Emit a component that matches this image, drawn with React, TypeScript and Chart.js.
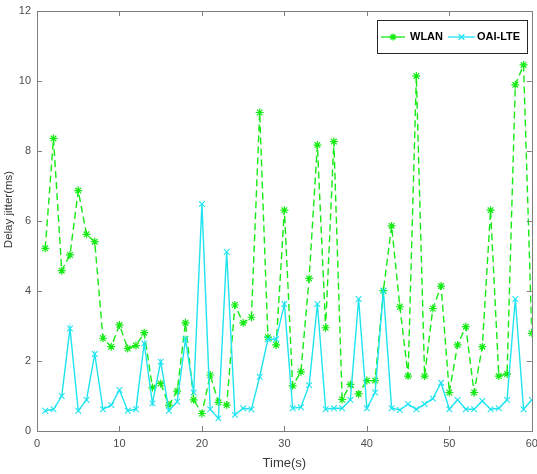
import React, { useEffect, useRef } from "react";
import { Chart, registerables } from "chart.js";

Chart.register(...registerables);

// Time axis (seconds)
const timeSec: number[] = Array.from({ length: 60 }, (_, i) => i + 1);

// Delay jitter (ms) per second
const wlanJitter: number[] = [
  5.22, 8.36, 4.58, 5.03, 6.87, 5.62, 5.41, 2.65, 2.41, 3.03,
  2.36, 2.44, 2.81, 1.24, 1.36, 0.74, 1.14, 3.09, 0.89, 0.5,
  1.6, 0.82, 0.74, 3.6, 3.09, 3.25, 9.1, 2.68, 2.46, 6.31,
  1.29, 1.69, 4.36, 8.17, 2.95, 8.27, 0.9, 1.33, 1.06, 1.44,
  1.44, 4.01, 5.86, 3.55, 1.57, 10.14, 1.57, 3.5, 4.14, 1.1,
  2.46, 2.98, 1.1, 2.41, 6.31, 1.57, 1.63, 9.89, 10.46, 2.79,
];

const lteJitter: number[] = [
  0.58, 0.62, 1.0, 2.93, 0.58, 0.89, 2.2, 0.62, 0.74, 1.17,
  0.58, 0.62, 2.5, 0.79, 1.98, 0.58, 0.84, 2.62, 1.1, 6.49,
  0.62, 0.36, 5.12, 0.46, 0.65, 0.62, 1.55, 2.62, 2.62, 3.63,
  0.65, 0.68, 1.31, 3.63, 0.62, 0.65, 0.65, 0.89, 3.77, 0.65,
  1.1, 4.01, 0.65, 0.6, 0.77, 0.62, 0.77, 0.93, 1.38, 0.62,
  0.89, 0.62, 0.62, 0.86, 0.62, 0.65, 0.89, 3.77, 0.62, 0.89,
];

const xTicks: number[] = [0, 10, 20, 30, 40, 50, 60];
const yTicks: number[] = [0, 2, 4, 6, 8, 10, 12];

const seriesNames: string[] = ["WLAN", "OAI-LTE"];
const yTitle = "Delay jitter(ms)";

const GREEN = "rgb(20,235,20)";
const CYAN = "rgb(30,228,240)";
const AXIS = "#7f7f7f";
const FONT = "'Liberation Sans', Arial, sans-serif";

function drawStar(ctx: CanvasRenderingContext2D, x: number, y: number, r: number) {
  ctx.beginPath();
  ctx.moveTo(x - r, y);
  ctx.lineTo(x + r, y);
  ctx.moveTo(x, y - r);
  ctx.lineTo(x, y + r);
  const d = r * 0.707;
  ctx.moveTo(x - d, y - d);
  ctx.lineTo(x + d, y + d);
  ctx.moveTo(x - d, y + d);
  ctx.lineTo(x + d, y - d);
  ctx.stroke();
}

function drawX(ctx: CanvasRenderingContext2D, x: number, y: number, r: number) {
  const d = r * 0.707;
  ctx.beginPath();
  ctx.moveTo(x - d, y - d);
  ctx.lineTo(x + d, y + d);
  ctx.moveTo(x - d, y + d);
  ctx.lineTo(x + d, y - d);
  ctx.stroke();
}

// Axes box with inward ticks on all four sides, the y title and the in-plot legend
const boxPlugin = {
  id: "matlabBox",
  afterDraw(chart: any) {
    const { ctx, chartArea: a, scales } = chart;
    const xs = scales.x;
    const ys = scales.y;
    ctx.save();
    ctx.strokeStyle = AXIS;
    ctx.lineWidth = 1;
    ctx.setLineDash([]);
    ctx.strokeRect(Math.round(a.left) + 0.5, Math.round(a.top) + 0.5, Math.round(a.right - a.left), Math.round(a.bottom - a.top));
    const tl = 5;
    ctx.beginPath();
    for (const v of xTicks) {
      const px = Math.round(xs.getPixelForValue(v)) + 0.5;
      ctx.moveTo(px, a.bottom);
      ctx.lineTo(px, a.bottom - tl);
      ctx.moveTo(px, a.top);
      ctx.lineTo(px, a.top + tl);
    }
    for (const v of yTicks) {
      const py = Math.round(ys.getPixelForValue(v)) + 0.5;
      ctx.moveTo(a.left, py);
      ctx.lineTo(a.left + tl, py);
      ctx.moveTo(a.right, py);
      ctx.lineTo(a.right - tl, py);
    }
    ctx.stroke();

    // y axis title
    ctx.save();
    ctx.translate(8.5, 209.5);
    ctx.rotate(-Math.PI / 2);
    ctx.font = `11.5px ${FONT}`;
    ctx.fillStyle = "#3a3a3a";
    ctx.textAlign = "center";
    ctx.textBaseline = "middle";
    ctx.fillText(yTitle, 0, 0);
    ctx.restore();

    // legend
    const lx = 377.5, ly = 20.5, lw = 150, lh = 33;
    ctx.fillStyle = "#ffffff";
    ctx.fillRect(lx, ly, lw, lh);
    ctx.strokeStyle = "#262626";
    ctx.strokeRect(lx, ly, lw, lh);
    const cy = ly + lh / 2;
    ctx.font = `bold 11px ${FONT}`;
    ctx.textBaseline = "middle";
    ctx.textAlign = "left";

    ctx.strokeStyle = GREEN;
    ctx.lineWidth = 1.3;
    ctx.beginPath();
    ctx.moveTo(381, cy);
    ctx.lineTo(405, cy);
    ctx.stroke();
    drawStar(ctx, 393, cy, 3.5);
    ctx.fillStyle = "#000000";
    ctx.fillText(seriesNames[0], 410, cy);

    ctx.strokeStyle = CYAN;
    ctx.beginPath();
    ctx.moveTo(448, cy);
    ctx.lineTo(475, cy);
    ctx.stroke();
    drawX(ctx, 461.5, cy, 4);
    ctx.fillStyle = "#000000";
    ctx.fillText(seriesNames[1], 477, cy);
    ctx.restore();
  },
};

export default function App() {
  const ref = useRef<HTMLCanvasElement | null>(null);

  useEffect(() => {
    document.body.style.margin = "0";
    const canvas = ref.current;
    if (!canvas) return;
    const chart = new Chart(canvas, {
      type: "line",
      data: {
        datasets: [
          {
            label: seriesNames[0],
            data: timeSec.map((t, i) => ({ x: t, y: wlanJitter[i] })),
            borderColor: GREEN,
            backgroundColor: GREEN,
            borderWidth: 1.4,
            borderDash: [7, 4],
            pointStyle: "star",
            pointRadius: 4,
            pointBorderWidth: 1.2,
            pointBorderColor: GREEN,
            tension: 0,
            order: 1,
          },
          {
            label: seriesNames[1],
            data: timeSec.map((t, i) => ({ x: t, y: lteJitter[i] })),
            borderColor: CYAN,
            backgroundColor: CYAN,
            borderWidth: 1.4,
            pointStyle: "crossRot",
            pointRadius: 4,
            pointBorderWidth: 1.1,
            pointBorderColor: CYAN,
            tension: 0,
            order: 0,
          },
        ],
      },
      options: {
        animation: false,
        responsive: false,
        devicePixelRatio: 1,
        layout: { padding: { top: 11, right: 4, left: 0, bottom: 0 } },
        plugins: {
          legend: { display: false },
          tooltip: { enabled: false },
        },
        scales: {
          x: {
            type: "linear",
            min: 0,
            max: 60,
            afterBuildTicks: (s: any) => {
              s.ticks = xTicks.map((v) => ({ value: v }));
            },
            afterFit: (s: any) => {
              s.height = 43;
              s.paddingLeft = 0;
              s.paddingRight = 0;
            },
            grid: { display: false, drawTicks: false },
            border: { display: false },
            ticks: {
              color: "#4d4d4d",
              padding: 6,
              maxRotation: 0,
              font: { family: FONT, size: 11 },
            },
            title: {
              display: true,
              text: "Time(s)",
              color: "#3a3a3a",
              font: { family: FONT, size: 13 },
              padding: { top: 0, bottom: 3 },
            },
          },
          y: {
            type: "linear",
            min: 0,
            max: 12,
            afterBuildTicks: (s: any) => {
              s.ticks = yTicks.map((v) => ({ value: v }));
            },
            afterFit: (s: any) => {
              s.width = 37;
              s.paddingTop = 0;
              s.paddingBottom = 0;
            },
            grid: { display: false, drawTicks: false },
            border: { display: false },
            ticks: {
              color: "#4d4d4d",
              padding: 6,
              font: { family: FONT, size: 11 },
            },
          },
        },
      },
      plugins: [boxPlugin],
    });
    return () => chart.destroy();
  }, []);

  return (
    <div style={{ width: 537, height: 474 }}>
      <canvas ref={ref} width={537} height={474} style={{ display: "block" }} />
    </div>
  );
}
